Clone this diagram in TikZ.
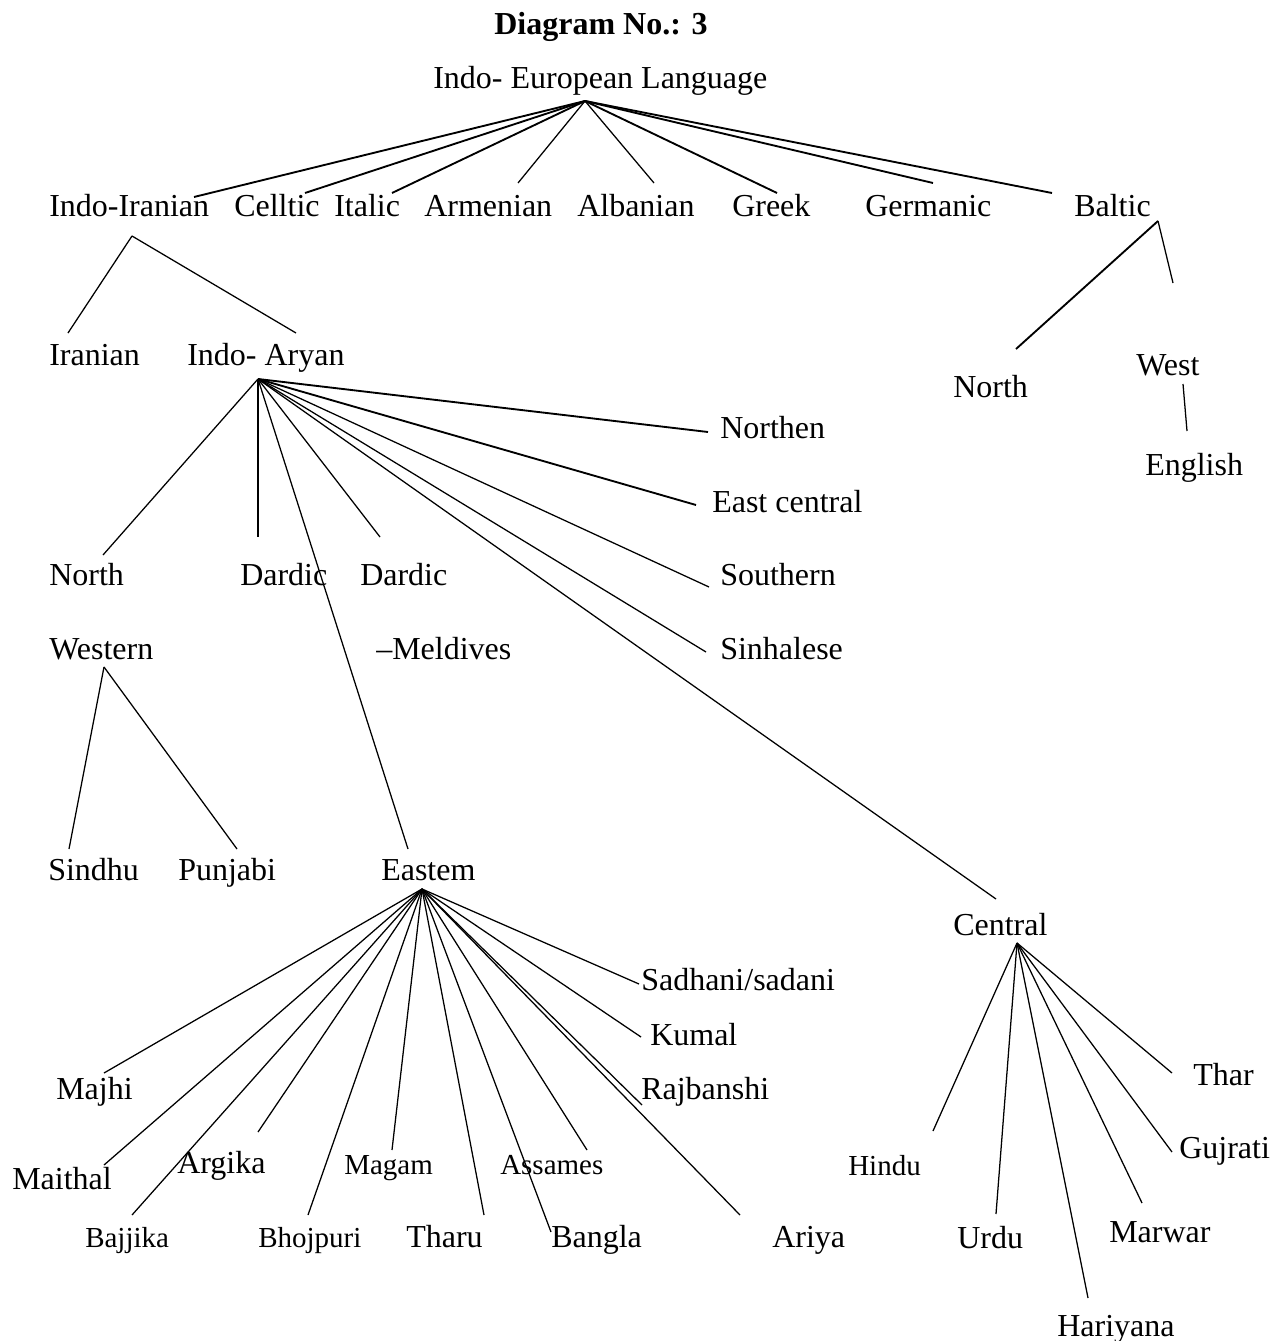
\documentclass[tikz,border=0pt]{standalone}
\usepackage{fontspec}
\setmainfont{Liberation Serif}
\begin{document}
\begin{tikzpicture}[x=0.75pt,y=-0.75pt,
  lbl/.style={anchor=base west,inner sep=0pt,font=\fontsize{24}{28}\selectfont},
  slbl/.style={anchor=base west,inner sep=0pt,font=\fontsize{21.75}{26}\selectfont},
  edge/.style={line width=0.95pt},
  tedge/.style={line width=1.4pt}]
\useasboundingbox (0,0) rectangle (1286,1341);

% ---------- labels ----------
\node[anchor=base,inner sep=0pt,font=\bfseries\fontsize{24}{28}\selectfont] (title) at (601,35) {Diagram No.: 3};
\node[lbl] (ie) at (433,89) {Indo- European Language};

\node[lbl] (indoiranian) at (49,217) {Indo-Iranian};
\node[lbl] (celltic) at (234,217) {Celltic};
\node[lbl] (italic) at (334,217) {Italic};
\node[lbl] (armenian) at (424,217) {Armenian};
\node[lbl] (albanian) at (577,217) {Albanian};
\node[lbl] (greek) at (732,217) {Greek};
\node[lbl] (germanic) at (865,217) {Germanic};
\node[lbl] (baltic) at (1074,217) {Baltic};

\node[lbl] (iranian) at (49,365) {Iranian};
\node[lbl] (indoaryan) at (187,365) {Indo- Aryan};
\node[lbl] (bnorth) at (953,397) {North};
\node[lbl] (west) at (1136,375) {West};
\node[lbl] (english) at (1145,475) {English};

\node[lbl] (northen) at (720,438) {Northen};
\node[lbl] (eastcentral) at (712,512) {East central};
\node[lbl] (north) at (49,585) {North};
\node[lbl] (dardicA) at (240,585) {Dardic};
\node[lbl] (dardicB) at (360,585) {Dardic};
\node[lbl] (southern) at (720,585) {Southern};
\node[lbl] (western) at (49,659) {Western};
\node[lbl] (meldives) at (376,659) {–Meldives};
\node[lbl] (sinhalese) at (720,659) {Sinhalese};

\node[lbl] (sindhu) at (48,880) {Sindhu};
\node[lbl] (punjabi) at (178,880) {Punjabi};
\node[lbl] (eastem) at (381,880) {Eastem};
\node[lbl] (central) at (953,935) {Central};

\node[lbl] (sadhani) at (641,990) {Sadhani/sadani};
\node[lbl] (kumal) at (650,1045) {Kumal};
\node[lbl] (majhi) at (56,1099) {Majhi};
\node[lbl] (rajbanshi) at (641,1099) {Rajbanshi};
\node[lbl] (maithal) at (12,1189) {Maithal};
\node[lbl] (argika) at (177,1173) {Argika};
\node[slbl] (magam) at (344,1174) {Magam};
\node[slbl] (assames) at (500,1174) {Assames};
\node[slbl] (bajjika) at (85,1247) {Bajjika};
\node[slbl] (bhojpuri) at (258,1247) {Bhojpuri};
\node[lbl] (tharu) at (406,1247) {Tharu};
\node[lbl] (bangla) at (551,1247) {Bangla};
\node[lbl] (ariya) at (772,1247) {Ariya};

\node[lbl] (thar) at (1193,1085) {Thar};
\node[lbl] (gujrati) at (1179,1158) {Gujrati};
\node[slbl] (hindu) at (848,1175) {Hindu};
\node[lbl] (urdu) at (957,1248) {Urdu};
\node[lbl] (marwar) at (1109,1242) {Marwar};
\node[lbl] (hariyana) at (1057,1336) {Hariyana};

% ---------- connector points ----------
\coordinate (ieA) at (585,101);
\coordinate (c-indoiranian) at (194,197);
\coordinate (c-celltic) at (305,193);
\coordinate (c-italic) at (392,193);
\coordinate (c-armenian) at (518,183);
\coordinate (c-albanian) at (654,183);
\coordinate (c-greek) at (777,193);
\coordinate (c-germanic) at (933,183);
\coordinate (c-baltic) at (1052,193);

\coordinate (iiA) at (132,236);
\coordinate (c-iranian) at (68,333);
\coordinate (c-indoaryan) at (296,333);

\coordinate (baA) at (1158,221);
\coordinate (c-bnorth) at (1016,349);
\coordinate (c-west) at (1173,283);
\coordinate (weA) at (1183,384);
\coordinate (c-english) at (1187,431);

\coordinate (iaA) at (258,379);
\coordinate (c-north) at (103,555);
\coordinate (c-dardicA) at (258,537);
\coordinate (c-dardicB) at (380,537);
\coordinate (c-eastem) at (408,849);
\coordinate (c-northen) at (708,432);
\coordinate (c-eastcentral) at (696,505);
\coordinate (c-southern) at (709,587);
\coordinate (c-sinhalese) at (706,652);
\coordinate (c-central) at (996,899);

\coordinate (wA) at (104,667);
\coordinate (c-sindhu) at (69,849);
\coordinate (c-punjabi) at (237,849);

\coordinate (eA) at (422,889);
\coordinate (c-majhi) at (104,1073);
\coordinate (c-maithal) at (104,1165);
\coordinate (c-bajjika) at (132,1215);
\coordinate (c-argika) at (258,1132);
\coordinate (c-bhojpuri) at (308,1215);
\coordinate (c-magam) at (392,1150);
\coordinate (c-tharu) at (484,1215);
\coordinate (c-bangla) at (551,1232);
\coordinate (c-assames) at (587,1150);
\coordinate (c-ariya) at (740,1215);
\coordinate (c-rajbanshi) at (642,1105);
\coordinate (c-kumal) at (641,1037);
\coordinate (c-sadhani) at (639,984);

\coordinate (cA) at (1017,943);
\coordinate (c-hindu) at (933,1131);
\coordinate (c-urdu) at (996,1214);
\coordinate (c-hariyana) at (1088,1298);
\coordinate (c-marwar) at (1142,1203);
\coordinate (c-gujrati) at (1172,1152);
\coordinate (c-thar) at (1172,1073);

% ---------- connectors ----------
\draw[tedge] (ieA) -- (c-indoiranian);
\draw[tedge] (ieA) -- (c-celltic);
\draw[tedge] (ieA) -- (c-italic);
\draw[edge] (ieA) -- (c-armenian);
\draw[edge] (ieA) -- (c-albanian);
\draw[tedge] (ieA) -- (c-greek);
\draw[tedge] (ieA) -- (c-germanic);
\draw[tedge] (ieA) -- (c-baltic);

\draw[edge] (iiA) -- (c-iranian);
\draw[edge] (iiA) -- (c-indoaryan);

\draw[tedge] (baA) -- (c-bnorth);
\draw[edge] (baA) -- (c-west);
\draw[edge] (weA) -- (c-english);

\draw[edge] (iaA) -- (c-north);
\draw[edge] (iaA) -- (c-dardicA);
\draw[edge] (iaA) -- (c-dardicB);
\draw[edge] (iaA) -- (c-eastem);
\draw[tedge] (iaA) -- (c-northen);
\draw[tedge] (iaA) -- (c-eastcentral);
\draw[edge] (iaA) -- (c-southern);
\draw[edge] (iaA) -- (c-sinhalese);
\draw[edge] (iaA) -- (c-central);

\draw[edge] (wA) -- (c-sindhu);
\draw[edge] (wA) -- (c-punjabi);

\draw[edge] (eA) -- (c-majhi);
\draw[edge] (eA) -- (c-maithal);
\draw[edge] (eA) -- (c-bajjika);
\draw[edge] (eA) -- (c-argika);
\draw[edge] (eA) -- (c-bhojpuri);
\draw[edge] (eA) -- (c-magam);
\draw[edge] (eA) -- (c-tharu);
\draw[edge] (eA) -- (c-bangla);
\draw[edge] (eA) -- (c-assames);
\draw[edge] (eA) -- (c-ariya);
\draw[edge] (eA) -- (c-rajbanshi);
\draw[edge] (eA) -- (c-kumal);
\draw[edge] (eA) -- (c-sadhani);

\draw[edge] (cA) -- (c-hindu);
\draw[edge] (cA) -- (c-urdu);
\draw[edge] (cA) -- (c-hariyana);
\draw[edge] (cA) -- (c-marwar);
\draw[edge] (cA) -- (c-gujrati);
\draw[edge] (cA) -- (c-thar);
\end{tikzpicture}
\end{document}
